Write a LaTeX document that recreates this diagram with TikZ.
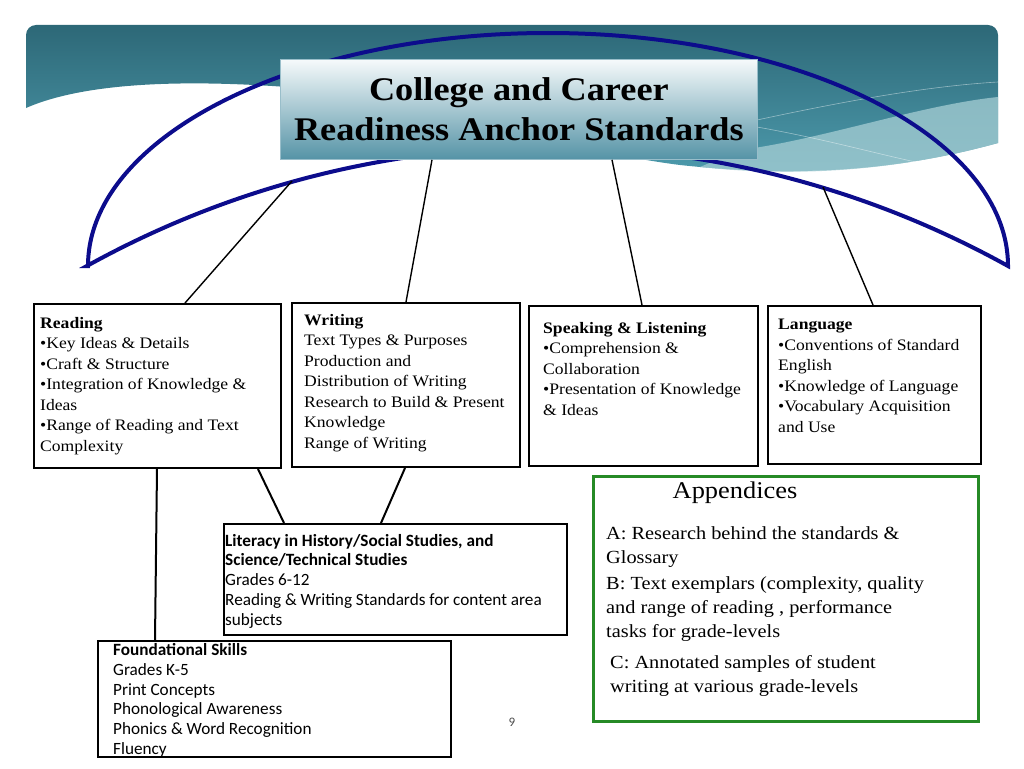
\documentclass[tikz,border=0pt]{standalone}
\usepackage{fontspec}
\setmainfont[FakeStretch=1.1]{Liberation Serif}
\newfontfamily\calfont{Carlito}
\usetikzlibrary{positioning}
\definecolor{bandtop}{HTML}{2D6877}
\definecolor{bandbot}{HTML}{4E9CAE}
\definecolor{wavelt}{HTML}{A6CED4}
\definecolor{archblue}{HTML}{0C0C8C}
\definecolor{ttop}{HTML}{F6FAFB}
\definecolor{tbot}{HTML}{5593A6}
\definecolor{apgreen}{HTML}{268A26}

\begin{document}
\begin{tikzpicture}[
      x=1pt, y=1pt,
      arch/.style={draw=archblue, line width=4pt, line join=miter},
      headbox/.style={shade, top color=ttop, bottom color=tbot, draw=tbot!60!white,
                      line width=0.8pt, anchor=north west, minimum width=477,
                      minimum height=100, align=center,
                      font=\fontsize{33}{40}\selectfont\bfseries},
      unit/.style={draw, line width=2pt, fill=white, anchor=north west, inner sep=0pt},
      txt/.style={align=left, inner sep=0pt, font=\fontsize{16}{20.5}\selectfont},
      stxt/.style={align=left, inner sep=0pt, font=\calfont\fontsize{17.2}{19.7}\selectfont},
      atxt/.style={align=left, inner sep=0pt, font=\fontsize{18.5}{24.2}\selectfont},
      link/.style={line width=1.4pt},
      blink/.style={line width=2pt},
    ]
    \useasboundingbox (0,0) rectangle (1024,-768);
    % -- header band --
    \shade[top color=bandtop, bottom color=bandbot]
      (26,-108) [rounded corners=10] -- (26,-25) -- (998,-25) [sharp corners] -- (998,-143)
      .. controls (900,-170) and (800,-178) .. (680,-165)
      .. controls (560,-150) and (400,-95) .. (300,-88)
      .. controls (200,-80) and (90,-80) .. (26,-108) -- cycle;
    \fill[wavelt, opacity=0.75]
      (740,-150) .. controls (820,-140) and (920,-105) .. (998,-97) -- (998,-143)
      .. controls (900,-170) and (800,-178) .. (700,-167) -- cycle;
    \draw[white, opacity=0.45, line width=0.6pt]
      (757,-120) .. controls (850,-100) and (930,-86) .. (998,-82);
    \draw[white, opacity=0.45, line width=0.6pt]
      (757,-127) .. controls (830,-140) and (880,-155) .. (930,-165);
    % -- arch --
    \draw[arch] (88,-266) arc[start angle=180, end angle=0, x radius=460, y radius=233]
      arc[start angle=61, end angle=119, radius=950] -- cycle;
    \coordinate (arcL) at (292,-181);
    \coordinate (arcR) at (823,-187);
    % -- title --
    \node[headbox] (cc) at (280,-59) {College and Career\\Readiness Anchor Standards};
    % -- strands --
    \node[unit, minimum width=247, minimum height=164] (rd) at (33,-303) {};
    \node[unit, minimum width=228, minimum height=164] (wr) at (291,-302) {};
    \node[unit, minimum width=229, minimum height=160] (sp) at (528,-305) {};
    \node[unit, minimum width=213, minimum height=158] (lg) at (767,-305) {};
    \node[unit, minimum width=343, minimum height=111] (lit) at (223,-523) {};
    \node[unit, minimum width=353, minimum height=116] (fd) at (97,-640) {};
    \node[unit, draw=apgreen, line width=2.5pt, minimum width=385, minimum height=245] (ap) at (592,-475) {};

    \node[txt, below right=14 and 7 of rd.north west] (rdt)
      {\textbf{Reading}\\•Key Ideas \& Details\\•Craft \& Structure\\•Integration of Knowledge \&\\Ideas\\•Range of Reading and Text\\Complexity};
    \node[txt, below right=12 and 13 of wr.north west] (wrt)
      {\textbf{Writing}\\Text Types \& Purposes\\Production and\\Distribution of Writing\\Research to Build \& Present\\Knowledge\\Range of Writing};
    \node[txt, below right=17 and 15 of sp.north west] (spt)
      {\textbf{Speaking \& Listening}\\•Comprehension \&\\Collaboration\\•Presentation of Knowledge\\\& Ideas};
    \node[txt, below right=14 and 11 of lg.north west] (lgt)
      {\textbf{Language}\\•Conventions of Standard\\English\\•Knowledge of Language\\•Vocabulary Acquisition\\and Use};
    \node[stxt, below right=11 and 2 of lit.north west] (litt)
      {\textbf{Literacy in History/Social Studies, and}\\\textbf{Science/Technical Studies}\\Grades 6-12\\Reading \& Writing Standards for content area\\subjects};
    \node[stxt, below right=3.5 and 16 of fd.north west] (fdt)
      {\textbf{Foundational Skills}\\Grades K-5\\Print Concepts\\Phonological Awareness\\Phonics \& Word Recognition\\Fluency};
    \node[font=\fontsize{24}{28}\selectfont, inner sep=0pt] (apt) at ([xshift=143, yshift=-18]ap.north west) {Appendices};
    \node[atxt, below right=51.5 and 14 of ap.north west] (apa)
      {A: Research behind the standards \&\\Glossary};
    \node[atxt, below right=101.5 and 14 of ap.north west] (apb)
      {B: Text exemplars (complexity, quality\\and range of reading , performance\\tasks for grade-levels};
    \node[atxt, below right=180.5 and 18 of ap.north west] (apc)
      {C: Annotated samples of student\\writing at various grade-levels};
    \node[font=\calfont\fontsize{13}{15}\selectfont, text=black!70] (pg) at (512,-722) {9};

    % -- connectors --
    \draw[link] (arcL) -- ([xshift=152]rd.north west);
    \draw[link] ([xshift=152]cc.south west) -- ([xshift=115]wr.north west);
    \draw[link] ([xshift=332]cc.south west) -- ([xshift=114]sp.north west);
    \draw[link] (arcR) -- ([xshift=106]lg.north west);
    \draw[blink] ([xshift=124]rd.south west) -- ([xshift=58]fd.north west);
    \draw[blink] ([xshift=225]rd.south west) -- ([xshift=61]lit.north west);
    \draw[blink] ([xshift=114]wr.south west) -- ([xshift=158]lit.north west);
  \end{tikzpicture}
\end{document}
